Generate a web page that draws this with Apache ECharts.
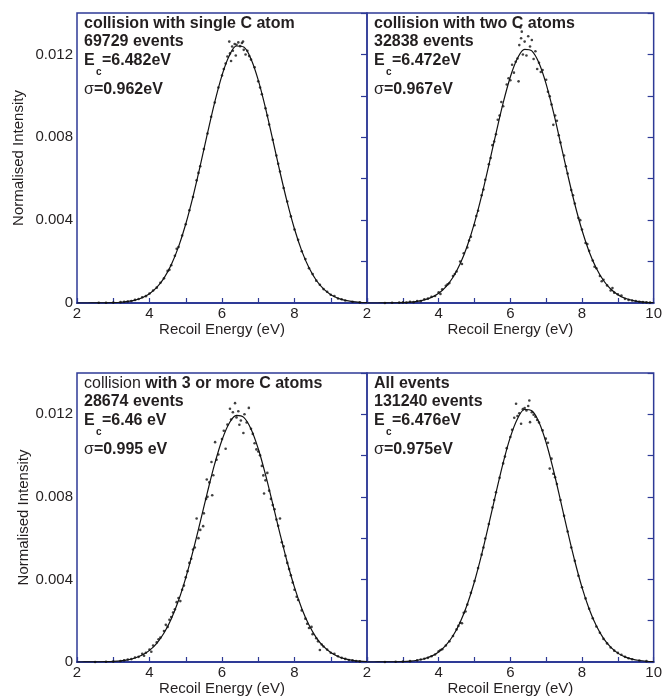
<!DOCTYPE html>
<html><head><meta charset="utf-8">
<script src="https://cdn.jsdelivr.net/npm/echarts@6/dist/echarts.min.js"></script>
<style>html,body{margin:0;padding:0;background:#fff}#c{width:665px;height:698px}</style>
</head><body><div id="c"></div>
<script>
// ---------- data ----------
const fitE = [2.0,2.2,2.4,2.6,2.8,3.0,3.2,3.4,3.6,3.8,4.0,4.2,4.4,4.6,4.8,5.0,5.2,5.4,5.6,5.8,6.0,6.2,6.4,6.6,6.8,7.0,7.2,7.4,7.6,7.8,8.0,8.2,8.4,8.6,8.8,9.0,9.2,9.4,9.6,9.8,10.0];
const fit1 = [0.0000002,0.0000006,0.0000015,0.0000037,0.0000082,0.000018,0.000037,0.000074,0.000141,0.000257,0.000449,0.000751,0.001203,0.001845,0.002710,0.003814,0.005138,0.006631,0.008196,0.009699,0.010992,0.011933,0.012407,0.012353,0.011780,0.010758,0.009408,0.007881,0.006322,0.004857,0.003573,0.002517,0.001699,0.001098,0.000680,0.000403,0.000229,0.000124,0.000065,0.000032,0.000015];
const fit2 = [0.0000003,0.0000007,0.0000017,0.0000041,0.0000092,0.0000196,0.000040,0.000079,0.000150,0.000271,0.000470,0.000781,0.001243,0.001892,0.002764,0.003866,0.005183,0.006658,0.008192,0.009659,0.010912,0.011811,0.012248,0.012169,0.011585,0.010567,0.009235,0.007733,0.006204,0.004768,0.003512,0.002478,0.001675,0.001085,0.000674,0.000401,0.000228,0.000125,0.000065,0.000033,0.000016];
const fit3 = [0.0000005,0.0000013,0.0000029,0.0000065,0.0000138,0.0000283,0.0000558,0.000106,0.000192,0.000336,0.000563,0.000907,0.001404,0.002086,0.002976,0.004079,0.005369,0.006786,0.008239,0.009606,0.010756,0.011568,0.011948,0.011852,0.011291,0.010330,0.009078,0.007661,0.006209,0.004833,0.003614,0.002594,0.001789,0.001185,0.000754,0.000461,0.000270,0.000152,0.000082,0.000043,0.000021];
const fit4 = [0.0000003,0.0000008,0.0000020,0.0000045,0.0000100,0.000021,0.000043,0.000085,0.000158,0.000284,0.000487,0.000804,0.001271,0.001928,0.002800,0.003900,0.005210,0.006674,0.008195,0.009648,0.010891,0.011788,0.012233,0.012171,0.011611,0.010620,0.009313,0.007831,0.006313,0.004880,0.003616,0.002569,0.001751,0.001144,0.000717,0.000430,0.000248,0.000136,0.000072,0.000037,0.000018];

const pts1 = [[2.6,0.00001],[2.8,0.00001],[3.0,0.00002],[3.2,0.00004],[3.3,0.00006],[3.4,0.00007],[3.5,0.0001],[3.6,0.00015],[3.7,0.00019],[3.8,0.00028],[3.9,0.00033],[4.0,0.00046],[4.1,0.0006],[4.2,0.00074],[4.3,0.00098],[4.4,0.00119],[4.5,0.00155],[4.55,0.0016],[4.6,0.00182],[4.7,0.00228],[4.75,0.00262],[4.8,0.0027],[4.9,0.00326],[5.0,0.0038],[5.1,0.00448],[5.2,0.00512],[5.3,0.00592],[5.35,0.00628],[5.4,0.0066],[5.5,0.00743],[5.6,0.00818],[5.7,0.00899],[5.8,0.00968],[5.9,0.0104],[6.0,0.01098],[6.05,0.0113],[6.1,0.01156],[6.15,0.0119],[6.2,0.01262],[6.22,0.01205],[6.25,0.01168],[6.28,0.01238],[6.3,0.01218],[6.35,0.0125],[6.38,0.01195],[6.4,0.01247],[6.45,0.01258],[6.5,0.0124],[6.55,0.01255],[6.58,0.01262],[6.6,0.01222],[6.65,0.012],[6.7,0.01218],[6.75,0.01192],[6.8,0.01175],[6.9,0.01138],[7.0,0.0107],[7.05,0.0104],[7.1,0.01008],[7.2,0.0094],[7.25,0.00905],[7.3,0.00862],[7.4,0.00788],[7.5,0.00712],[7.55,0.00672],[7.6,0.00635],[7.7,0.00555],[7.8,0.0049],[7.9,0.00418],[8.0,0.00355],[8.1,0.00305],[8.2,0.0025],[8.3,0.00212],[8.4,0.00168],[8.5,0.0014],[8.6,0.00108],[8.7,0.00088],[8.8,0.00067],[8.9,0.00054],[9.0,0.0004],[9.1,0.00034],[9.2,0.00022],[9.3,0.00018],[9.4,0.00012],[9.6,0.00006],[9.8,0.00003]];
const pts2 = [[2.5,0.0],[2.7,0.00001],[2.9,0.00002],[3.0,0.00003],[3.1,0.00002],[3.2,0.00006],[3.3,0.00004],[3.4,0.0001],[3.5,0.00009],[3.6,0.00018],[3.7,0.00021],[3.8,0.0003],[3.9,0.00034],[4.0,0.00052],[4.05,0.00044],[4.1,0.00066],[4.2,0.00083],[4.25,0.0009],[4.3,0.00096],[4.4,0.0013],[4.45,0.0014],[4.5,0.00152],[4.6,0.002],[4.65,0.00188],[4.7,0.0024],[4.8,0.00268],[4.85,0.00302],[4.9,0.0032],[5.0,0.00375],[5.05,0.0042],[5.1,0.00445],[5.2,0.0052],[5.25,0.00548],[5.3,0.00595],[5.4,0.0067],[5.45,0.007],[5.5,0.00762],[5.55,0.0078],[5.6,0.00815],[5.65,0.00885],[5.7,0.00905],[5.75,0.0097],[5.8,0.0095],[5.9,0.01055],[5.95,0.01085],[6.0,0.01075],[6.05,0.0115],[6.1,0.01112],[6.15,0.01165],[6.2,0.0118],[6.23,0.0107],[6.25,0.01245],[6.28,0.0133],[6.3,0.01278],[6.32,0.0131],[6.35,0.012],[6.4,0.01262],[6.45,0.01195],[6.5,0.01288],[6.55,0.01238],[6.6,0.0127],[6.65,0.01178],[6.7,0.01215],[6.75,0.0113],[6.8,0.0116],[6.85,0.01115],[6.9,0.01125],[7.0,0.01078],[7.05,0.0102],[7.1,0.00998],[7.15,0.00958],[7.2,0.0086],[7.25,0.00905],[7.3,0.0088],[7.35,0.0081],[7.4,0.00775],[7.5,0.00712],[7.55,0.0066],[7.6,0.00625],[7.7,0.00545],[7.75,0.0052],[7.8,0.0048],[7.9,0.0041],[7.95,0.004],[8.0,0.00355],[8.1,0.0029],[8.15,0.00285],[8.2,0.00252],[8.3,0.00205],[8.35,0.00175],[8.4,0.00168],[8.5,0.0013],[8.55,0.00105],[8.6,0.00112],[8.7,0.00085],[8.8,0.0006],[8.85,0.00072],[8.9,0.0005],[9.0,0.00042],[9.1,0.00036],[9.2,0.0002],[9.3,0.00015],[9.4,0.00012],[9.5,0.0001],[9.6,0.00006],[9.7,0.00004],[9.8,0.00003],[9.9,0.00002]];
const pts3 = [[2.5,0.0],[2.8,0.00001],[3.0,0.00002],[3.2,0.00005],[3.3,0.00008],[3.4,0.00012],[3.5,0.00014],[3.6,0.00022],[3.7,0.00025],[3.8,0.0004],[3.85,0.0003],[3.9,0.00045],[4.0,0.0006],[4.05,0.0005],[4.1,0.0008],[4.2,0.00095],[4.25,0.0011],[4.3,0.00118],[4.4,0.0015],[4.45,0.0018],[4.5,0.0017],[4.55,0.00205],[4.6,0.00218],[4.65,0.0024],[4.7,0.00255],[4.75,0.0029],[4.8,0.0031],[4.85,0.00295],[4.9,0.0035],[4.95,0.0037],[5.0,0.0041],[5.05,0.0044],[5.1,0.0048],[5.15,0.005],[5.2,0.00545],[5.25,0.00555],[5.3,0.00695],[5.35,0.006],[5.4,0.0064],[5.48,0.00658],[5.5,0.0072],[5.56,0.0079],[5.58,0.00884],[5.6,0.008],[5.65,0.0087],[5.71,0.00969],[5.73,0.00808],[5.76,0.00905],[5.81,0.01065],[5.85,0.0098],[5.9,0.01005],[6.0,0.0108],[6.05,0.0112],[6.1,0.01033],[6.15,0.0115],[6.22,0.01227],[6.25,0.01175],[6.3,0.0121],[6.36,0.01254],[6.4,0.01185],[6.45,0.01215],[6.48,0.01149],[6.52,0.0117],[6.59,0.01109],[6.62,0.012],[6.68,0.0116],[6.74,0.01231],[6.8,0.0113],[6.85,0.01105],[6.9,0.0106],[6.95,0.0103],[7.0,0.0102],[7.05,0.01001],[7.1,0.0095],[7.14,0.00904],[7.16,0.00816],[7.2,0.0088],[7.25,0.00916],[7.3,0.0083],[7.35,0.0079],[7.4,0.0076],[7.45,0.0074],[7.5,0.0069],[7.55,0.0066],[7.6,0.00695],[7.65,0.0058],[7.7,0.0056],[7.75,0.00515],[7.8,0.0048],[7.85,0.0045],[7.9,0.0042],[7.95,0.00385],[8.0,0.0035],[8.06,0.00316],[8.1,0.003],[8.2,0.0025],[8.3,0.0021],[8.35,0.00185],[8.4,0.00165],[8.47,0.0017],[8.5,0.00135],[8.6,0.00115],[8.65,0.001],[8.7,0.00058],[8.75,0.00085],[8.8,0.00075],[8.9,0.0006],[9.0,0.00045],[9.1,0.0004],[9.2,0.00028],[9.3,0.0002],[9.4,0.00015],[9.5,0.0001],[9.6,0.00008],[9.7,0.00005],[9.8,0.00003]];
const pts4 = [[2.5,0.0],[2.8,0.00001],[3.0,0.00002],[3.2,0.00004],[3.4,0.00008],[3.5,0.00012],[3.6,0.00016],[3.7,0.0002],[3.8,0.00028],[3.9,0.00036],[4.0,0.00052],[4.05,0.00058],[4.1,0.00062],[4.2,0.0008],[4.3,0.001],[4.4,0.00126],[4.5,0.00158],[4.55,0.00175],[4.6,0.0019],[4.65,0.00188],[4.7,0.00238],[4.75,0.00245],[4.8,0.00278],[4.9,0.00335],[5.0,0.00392],[5.1,0.00455],[5.2,0.0052],[5.25,0.00555],[5.3,0.00598],[5.4,0.00668],[5.5,0.00748],[5.55,0.00785],[5.6,0.00822],[5.7,0.00892],[5.8,0.00962],[5.85,0.00995],[5.9,0.01036],[6.0,0.0109],[6.05,0.01125],[6.11,0.01183],[6.16,0.01251],[6.2,0.01192],[6.25,0.01205],[6.3,0.01154],[6.35,0.01225],[6.4,0.0123],[6.45,0.01218],[6.5,0.0124],[6.53,0.01267],[6.55,0.01162],[6.6,0.0121],[6.65,0.01198],[6.7,0.01188],[6.75,0.01172],[6.8,0.0116],[6.9,0.01122],[6.99,0.01082],[7.05,0.01062],[7.1,0.00937],[7.15,0.00985],[7.2,0.00912],[7.25,0.00895],[7.3,0.00862],[7.4,0.00785],[7.5,0.00708],[7.6,0.00632],[7.7,0.00555],[7.8,0.0049],[7.9,0.00418],[8.0,0.00362],[8.1,0.00308],[8.2,0.00258],[8.3,0.00212],[8.4,0.00172],[8.5,0.00142],[8.6,0.00112],[8.7,0.0009],[8.8,0.0007],[8.9,0.00055],[9.0,0.00044],[9.1,0.00035],[9.2,0.00025],[9.3,0.00018],[9.4,0.00013],[9.6,0.00007],[9.8,0.00004]];

const xTickLabels = ['2','4','6','8','10'];
const yTickLabels = ['0','0.004','0.008','0.012'];
const xTitle = 'Recoil Energy (eV)';
const yTitle = 'Normalised Intensity';

const panelTitles = [
  [['b','collision with single C atom']],
  [['b','collision with two C atoms']],
  [['n','collision '],['b','with 3 or more C atoms']],
  [['b','All events']]
];
const panelEvents = ['69729 events','32838 events','28674 events','131240 events'];
const panelEc = ['=6.482eV','=6.472eV','=6.46 eV','=6.476eV'];
const panelSigma = ['=0.962eV','=0.967eV','=0.995 eV','=0.975eV'];

// ---------- layout ----------
const FONT = "'Liberation Sans', Arial, Helvetica, sans-serif";
const BLUE = '#2e3a96';
const INK = '#231f20';
const boxes = [
  {left:77, top:13, width:290, height:290, leftCol:true, yGap:51},
  {left:367, top:13, width:288, height:290, leftCol:false, yGap:45},
  {left:77, top:373, width:290, height:289, leftCol:true, yGap:43},
  {left:367, top:373, width:288, height:289, leftCol:false, yGap:45}
];
const fits = [fit1, fit2, fit3, fit4];
const pts = [pts1, pts2, pts3, pts4];

const grid = [], xAxis = [], yAxis = [], series = [], graphic = [];
boxes.forEach((b, i) => {
  grid.push({left:b.left, top:b.top, width:b.width, height:b.height, show:true,
    borderColor:BLUE, borderWidth:1.5, backgroundColor:'transparent'});
  xAxis.push({type:'value', gridIndex:i, min:2, max:10, interval:1,
    name:xTitle, nameLocation:'middle', nameGap:15,
    nameTextStyle:{fontFamily:FONT, fontSize:15, color:INK},
    axisLine:{show:true, onZero:false, lineStyle:{color:BLUE, width:2}},
    axisTick:{show:true, inside:true, length:5, lineStyle:{color:BLUE, width:1.2}},
    splitLine:{show:false},
    axisLabel:{interval:0, margin:3, fontFamily:FONT, fontSize:15, color:INK,
      formatter: v => { const s = String(Math.round(v)); if (!xTickLabels.includes(s)) return ''; if (b.leftCol && s==='10') return ''; return s; }}
  });
  yAxis.push({type:'value', gridIndex:i, min:0, max:0.014, interval:0.002,
    name: b.leftCol ? yTitle : '', nameLocation:'middle', nameGap: b.yGap,
    nameTextStyle:{fontFamily:FONT, fontSize:15, color:INK},
    axisLine:{show:false}, axisTick:{show:false}, splitLine:{show:false},
    axisLabel:{show:b.leftCol, interval:0, margin:4, fontFamily:FONT, fontSize:15, color:INK,
      formatter: v => { const k = Math.round(v/0.002); if (k%2) return ''; const s = k===0 ? '0' : (k*0.002).toFixed(3); return yTickLabels.includes(s) ? s : ''; }}
  });
  yAxis.push({type:'value', gridIndex:i, position:'right', min:0, max:0.014, interval:0.002,
    axisLine:{show:false}, splitLine:{show:false}, axisLabel:{show:false},
    axisTick:{show:true, inside:true, length:6, lineStyle:{color:BLUE, width:1.2}}
  });
  series.push({type:'line', xAxisIndex:i, yAxisIndex:2*i, data:fitE.map((e,k)=>[e,fits[i][k]]),
    smooth:0.35, showSymbol:false, lineStyle:{color:'#111', width:1.2}, z:3, silent:true});
  series.push({type:'scatter', xAxisIndex:i, yAxisIndex:2*i, data:pts[i],
    symbol:'circle', symbolSize:2.6, itemStyle:{color:'#111'}, z:4, silent:true});

  // annotations
  const x0 = b.left + 7, t0 = b.top;
  const rich = {b:{fontFamily:FONT, fontSize:16, fontWeight:'bold', fill:INK, color:INK},
                n:{fontFamily:FONT, fontSize:16, fontWeight:'normal', fill:INK, color:INK}};
  graphic.push({type:'text', left:x0, top:t0+3, z:10,
    style:{text: panelTitles[i].map(p => '{'+p[0]+'|'+p[1]+'}').join(''), rich:rich, font:'bold 16px '+FONT}});
  graphic.push({type:'text', left:x0, top:t0+21, z:10,
    style:{text: panelEvents[i], font:'bold 16px '+FONT, fill:INK}});
  graphic.push({type:'text', left:x0, top:t0+40, z:10,
    style:{text:'E', font:'bold 16px '+FONT, fill:INK}});
  graphic.push({type:'text', left:x0+12, top:t0+54, z:10,
    style:{text:'c', font:'bold 10px '+FONT, fill:INK}});
  graphic.push({type:'text', left:x0+18, top:t0+40, z:10,
    style:{text: panelEc[i], font:'bold 16px '+FONT, fill:INK}});
  graphic.push({type:'text', left:x0, top:t0+69, z:10,
    style:{text:'{n|σ}{b|'+panelSigma[i]+'}', rich:rich, font:'bold 16px '+FONT}});
});

const chart = echarts.init(document.getElementById('c'), null, {renderer:'canvas'});
chart.setOption({animation:false, backgroundColor:'#fff', grid, xAxis, yAxis, series, graphic});
</script></body></html>
